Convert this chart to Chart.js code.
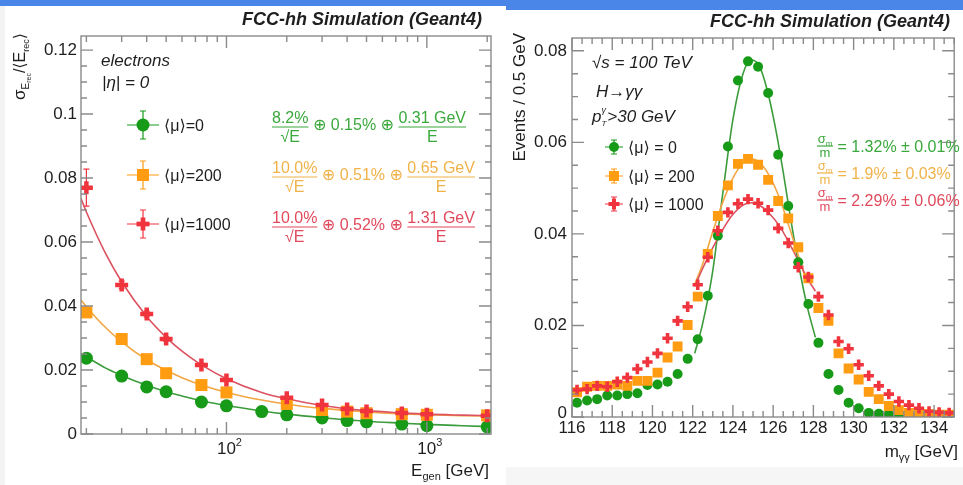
<!DOCTYPE html>
<html>
<head>
<meta charset="UTF-8">
<title>FCC-hh Simulation (Geant4)</title>
<script src="https://cdn.jsdelivr.net/npm/chart.js@4.4.0/dist/chart.umd.min.js"></script>
<style>
body { margin:0; width:963px; height:485px; background:#4a86e8; position:relative; overflow:hidden; }
#strip { position:absolute; left:0; top:6px; width:5px; height:479px; background:#f3f3f3; }
#leftBox { position:absolute; left:5px; top:6px; width:501px; height:479px; background:#fff; }
#rightBox { position:absolute; left:506px; top:10px; width:457px; height:457px; background:#fff; }
#rightFoot { position:absolute; left:506px; top:467px; width:457px; height:18px; background:#f6f6f6; }
canvas { display:block; }
</style>
</head>
<body>
<div id="strip"></div>
<div id="leftBox"><canvas id="left" width="501" height="479"></canvas></div>
<div id="rightBox"><canvas id="right" width="457" height="457"></canvas></div>
<div id="rightFoot"></div>
<script>
// ---- left panel: electron energy resolution ----
var greenEnergies = [20, 30, 40, 50, 75, 100, 150, 200, 300, 400, 500, 750, 1000, 2000];
var greenRes = [0.0237, 0.0181, 0.0147, 0.0132, 0.0100, 0.0088, 0.0070, 0.0060, 0.0050, 0.0042, 0.0038, 0.0031, 0.0026, 0.0022];
var greenErr = [0.0008, 0.0005, 0.0004, 0.0004, 0.0003, 0.0003, 0.0002, 0.0002, 0.0002, 0.0001, 0.0001, 0.0001, 0.0001, 0.0001];
var pileupEnergies = [20, 30, 40, 50, 75, 100, 200, 300, 400, 500, 750, 1000, 2000];
var orangeRes = [0.0380, 0.0297, 0.0234, 0.0190, 0.0153, 0.0130, 0.0094, 0.0075, 0.0070, 0.0065, 0.0062, 0.0060, 0.0058];
var orangeErr = [0.0015, 0.0008, 0.0006, 0.0005, 0.0004, 0.0003, 0.0002, 0.0002, 0.0002, 0.0001, 0.0001, 0.0001, 0.0001];
var redRes = [0.0770, 0.0466, 0.0375, 0.0297, 0.0216, 0.0169, 0.0113, 0.0091, 0.0078, 0.0072, 0.0066, 0.0062, 0.0057];
var redErr = [0.0058, 0.0012, 0.0009, 0.0007, 0.0005, 0.0004, 0.0003, 0.0002, 0.0002, 0.0002, 0.0001, 0.0001, 0.0001];

// fit curves
var fitEnergies = [18.8, 20, 25, 30, 40, 50, 60, 75, 100, 150, 200, 300, 500, 750, 1000, 1500, 2100];
var greenFit = [0.0251, 0.0241, 0.0206, 0.0183, 0.0152, 0.0132, 0.0119, 0.0104, 0.0089, 0.0072, 0.0062, 0.0051, 0.0040, 0.0034, 0.0030, 0.0026, 0.0023];
var orangeFit = [0.0419, 0.0398, 0.0332, 0.0288, 0.0232, 0.0199, 0.0176, 0.0153, 0.0130, 0.0106, 0.0093, 0.0080, 0.0069, 0.0063, 0.0060, 0.0057, 0.0056];
var redFit = [0.0736, 0.0694, 0.0563, 0.0476, 0.0367, 0.0302, 0.0259, 0.0216, 0.0173, 0.0130, 0.0110, 0.0089, 0.0073, 0.0066, 0.0062, 0.0059, 0.0057];

var leftYTicks = [0, 0.02, 0.04, 0.06, 0.08, 0.1, 0.12];
var leftYLabels = ['0', '0.02', '0.04', '0.06', '0.08', '0.1', '0.12'];
var leftXTicks = [100, 1000];
var leftXExponents = ['2', '3'];
var leftXMinor = [20, 30, 40, 50, 60, 70, 80, 90, 200, 300, 400, 500, 600, 700, 800, 900, 2000];

// ---- right panel: diphoton mass ----
var massBins = [116.25, 116.75, 117.25, 117.75, 118.25, 118.75, 119.25, 119.75, 120.25, 120.75,
  121.25, 121.75, 122.25, 122.75, 123.25, 123.75, 124.25, 124.75, 125.25, 125.75,
  126.25, 126.75, 127.25, 127.75, 128.25, 128.75, 129.25, 129.75, 130.25, 130.75,
  131.25, 131.75, 132.25, 132.75, 133.25, 133.75, 134.25, 134.75];
var eventsMu0 = [0.0031, 0.0036, 0.0039, 0.0047, 0.0047, 0.0050, 0.0052, 0.0070, 0.0071, 0.0077,
  0.0094, 0.0127, 0.0170, 0.0265, 0.0396, 0.0591, 0.0735, 0.0777, 0.0765, 0.0708,
  0.0573, 0.0461, 0.0338, 0.0247, 0.0162, 0.0094, 0.0059, 0.0031, 0.0019, 0.0009,
  0.0007, 0.0006, 0.0004, 0.0002, 0.0001, 0.0001, 0.0000, 0.0000];
var eventsMu200 = [0.0054, 0.0066, 0.0068, 0.0068, 0.0071, 0.0068, 0.0079, 0.0079, 0.0097, 0.0130,
  0.0154, 0.0201, 0.0263, 0.0356, 0.0439, 0.0506, 0.0553, 0.0564, 0.0551, 0.0518,
  0.0472, 0.0434, 0.0371, 0.0303, 0.0238, 0.0210, 0.0139, 0.0106, 0.0082, 0.0055,
  0.0039, 0.0024, 0.0015, 0.0009, 0.0007, 0.0006, 0.0005, 0.0005];
var eventsMu1000 = [0.0059, 0.0061, 0.0068, 0.0066, 0.0077, 0.0086, 0.0105, 0.0120, 0.0139, 0.0172,
  0.0210, 0.0241, 0.0289, 0.0349, 0.0407, 0.0447, 0.0466, 0.0476, 0.0467, 0.0452,
  0.0412, 0.0380, 0.0327, 0.0306, 0.0263, 0.0223, 0.0165, 0.0149, 0.0114, 0.0090,
  0.0068, 0.0050, 0.0034, 0.0026, 0.0019, 0.0012, 0.0010, 0.0009];

var greenFitMass = [122.1, 122.5, 123.0, 123.5, 124.0, 124.5, 124.9, 125.3, 125.7, 126.1, 126.5, 126.9, 127.3, 127.7, 128.1];
var greenFitEvents = [0.0139, 0.0205, 0.0320, 0.0490, 0.0650, 0.0750, 0.0780, 0.0768, 0.0715, 0.0635, 0.0535, 0.0425, 0.0325, 0.0240, 0.0174];
var orangeFitMass = [122.1, 122.5, 123.0, 123.5, 124.0, 124.5, 124.9, 125.3, 125.8, 126.3, 126.8, 127.2, 127.6];
var orangeFitEvents = [0.0290, 0.0335, 0.0405, 0.0470, 0.0522, 0.0555, 0.0564, 0.0557, 0.0528, 0.0480, 0.0415, 0.0360, 0.0305];
var redFitMass = [122.1, 122.5, 123.0, 123.5, 124.0, 124.5, 124.9, 125.3, 125.8, 126.3, 126.8, 127.3, 127.7, 128.1];
var redFitEvents = [0.0285, 0.0325, 0.0370, 0.0410, 0.0443, 0.0463, 0.0468, 0.0463, 0.0445, 0.0418, 0.0380, 0.0337, 0.0303, 0.0275];

var rightXTicks = [116, 118, 120, 122, 124, 126, 128, 130, 132, 134];
var rightXLabels = ['116', '118', '120', '122', '124', '126', '128', '130', '132', '134'];
var rightYTicks = [0, 0.02, 0.04, 0.06, 0.08];
var rightYLabels = ['0', '0.02', '0.04', '0.06', '0.08'];

var FONT = '"Liberation Sans", "DejaVu Sans", sans-serif';
var GREEN = '#169a18', ORANGE = '#ff9c12', RED = '#f0343e';
var GREEN_LINE = '#3c9c3c', ORANGE_LINE = '#f2a644', RED_LINE = '#dc5260';
var GREEN_TXT = '#3aa83c', ORANGE_TXT = '#f0b24a', RED_TXT = '#e04a5c';
var FRAME = '#8a8a8a', INK = '#1e1e1e';

function xy(xs, ys) { return xs.map(function (v, i) { return {x: v, y: ys[i]}; }); }
function setFont(ctx, size, style) { ctx.font = (style || '') + ' ' + size + 'px ' + FONT; }

// parts: [text, size, dy, style]
function drawRich(ctx, parts, x, y, align, color) {
  var w = 0;
  parts.forEach(function (p) { setFont(ctx, p[1], p[3]); w += ctx.measureText(p[0]).width; });
  var cx = align === 'right' ? x - w : align === 'center' ? x - w / 2 : x;
  ctx.fillStyle = color; ctx.textAlign = 'left'; ctx.textBaseline = 'alphabetic';
  parts.forEach(function (p) {
    setFont(ctx, p[1], p[3]);
    ctx.fillText(p[0], cx, y + (p[2] || 0));
    cx += ctx.measureText(p[0]).width;
  });
  return cx;
}

function drawFrac(ctx, num, den, x, yLine, size, color) {
  setFont(ctx, size);
  var w = Math.max(ctx.measureText(num).width, ctx.measureText(den).width);
  ctx.fillStyle = color; ctx.textAlign = 'center'; ctx.textBaseline = 'alphabetic';
  ctx.fillText(num, x + w / 2, yLine - 4);
  ctx.fillText(den, x + w / 2, yLine + 15);
  ctx.strokeStyle = color; ctx.lineWidth = 1.2;
  ctx.beginPath(); ctx.moveTo(x, yLine); ctx.lineTo(x + w, yLine); ctx.stroke();
  ctx.textAlign = 'left';
  return x + w;
}

function drawMarker(ctx, kind, x, y, r, color) {
  ctx.fillStyle = color;
  if (kind === 'circle') { ctx.beginPath(); ctx.arc(x, y, r, 0, Math.PI * 2); ctx.fill(); }
  else if (kind === 'rect') { ctx.fillRect(x - r, y - r, 2 * r, 2 * r); }
  else { var t = r * 0.36; ctx.fillRect(x - r, y - t, 2 * r, 2 * t); ctx.fillRect(x - t, y - r, 2 * t, 2 * r); }
}

function legendEntry(ctx, kind, x, y, r, arm, color, label, size) {
  ctx.strokeStyle = color; ctx.lineWidth = 1.2;
  ctx.beginPath();
  ctx.moveTo(x - arm, y); ctx.lineTo(x + arm, y);
  ctx.moveTo(x, y - arm + 2); ctx.lineTo(x, y + arm - 2);
  ctx.moveTo(x - 3, y - arm + 2); ctx.lineTo(x + 3, y - arm + 2);
  ctx.moveTo(x - 3, y + arm - 2); ctx.lineTo(x + 3, y + arm - 2);
  ctx.stroke();
  drawMarker(ctx, kind, x, y, r, color);
  drawRich(ctx, [[label, size]], x + arm + 5, y + 6, 'left', INK);
}

function errorBars(ctx, xs, ys, xv, yv, ev, color) {
  ctx.strokeStyle = color; ctx.lineWidth = 1.2;
  ctx.beginPath();
  xv.forEach(function (v, i) {
    var px = xs.getPixelForValue(v);
    var top = ys.getPixelForValue(yv[i] + ev[i]), bot = ys.getPixelForValue(yv[i] - ev[i]);
    ctx.moveTo(px, top); ctx.lineTo(px, bot);
    ctx.moveTo(px - 3, top); ctx.lineTo(px + 3, top);
    ctx.moveTo(px - 3, bot); ctx.lineTo(px + 3, bot);
  });
  ctx.stroke();
}

function drawFrame(chart, xMajor, xMinor, yMajor, yMinor) {
  var ctx = chart.ctx, a = chart.chartArea, xs = chart.scales.x, ys = chart.scales.y;
  ctx.save();
  ctx.strokeStyle = FRAME; ctx.lineWidth = 1.4;
  ctx.strokeRect(a.left, a.top, a.right - a.left, a.bottom - a.top);
  ctx.beginPath();
  function yt(v, len) {
    var p = ys.getPixelForValue(v);
    ctx.moveTo(a.left, p); ctx.lineTo(a.left + len, p);
    ctx.moveTo(a.right, p); ctx.lineTo(a.right - len, p);
  }
  function xt(v, len) {
    var p = xs.getPixelForValue(v);
    ctx.moveTo(p, a.bottom); ctx.lineTo(p, a.bottom - len);
    ctx.moveTo(p, a.top); ctx.lineTo(p, a.top + len);
  }
  yMajor.forEach(function (v) { yt(v, 12); });
  yMinor.forEach(function (v) { yt(v, 6); });
  xMajor.forEach(function (v) { xt(v, 12); });
  xMinor.forEach(function (v) { xt(v, 6); });
  ctx.stroke();
  ctx.restore();
}

function minorTicks(lo, hi, step, majors) {
  var out = [];
  for (var v = lo; v <= hi + 1e-9; v += step) {
    var r = Math.round(v * 10000) / 10000;
    if (majors.indexOf(r) < 0) out.push(r);
  }
  return out;
}

var leftPlot = {
  id: 'leftPlot',
  beforeDatasetsDraw: function (chart) {
    var ctx = chart.ctx, xs = chart.scales.x, ys = chart.scales.y;
    ctx.save();
    errorBars(ctx, xs, ys, greenEnergies, greenRes, greenErr, GREEN);
    errorBars(ctx, xs, ys, pileupEnergies, orangeRes, orangeErr, ORANGE);
    errorBars(ctx, xs, ys, pileupEnergies, redRes, redErr, RED);
    ctx.restore();
  },
  afterDraw: function (chart) {
    var ctx = chart.ctx, a = chart.chartArea, xs = chart.scales.x, ys = chart.scales.y;
    drawFrame(chart, leftXTicks, leftXMinor, leftYTicks, minorTicks(0, 0.12, 0.005, leftYTicks));
    ctx.save();
    setFont(ctx, 17); ctx.fillStyle = INK; ctx.textAlign = 'right'; ctx.textBaseline = 'middle';
    leftYTicks.forEach(function (v, i) { ctx.fillText(leftYLabels[i], a.left - 4, ys.getPixelForValue(v)); });
    leftXTicks.forEach(function (v, i) {
      drawRich(ctx, [['10', 17], [leftXExponents[i], 11, -8]], xs.getPixelForValue(v) + 3, a.bottom + 20, 'center', INK);
    });
    drawRich(ctx, [['E', 17], ['gen', 11, 4], [' [GeV]', 17]], a.right - 2, 470, 'right', INK);
    // y title, rotated
    ctx.save();
    ctx.translate(20, 27); ctx.rotate(-Math.PI / 2);
    drawRich(ctx, [['\u03c3', 17], ['E', 10, 4], ['rec', 7, 6], ['/\u27e8E', 16], ['rec', 9, 4], ['\u27e9', 16]], 0, 0, 'right', INK);
    ctx.restore();
    drawRich(ctx, [['FCC-hh Simulation (Geant4)', 18, 0, 'italic bold']], 477, 19, 'right', INK);
    drawRich(ctx, [['electrons', 17, 0, 'italic']], 96, 60, 'left', INK);
    drawRich(ctx, [['|\u03b7| = 0', 17, 0, 'italic']], 97, 82, 'left', INK);
    legendEntry(ctx, 'circle', 138, 119, 6.5, 16, GREEN, '\u27e8\u03bc\u27e9=0', 16);
    legendEntry(ctx, 'rect', 138, 169, 6, 16, ORANGE, '\u27e8\u03bc\u27e9=200', 16);
    legendEntry(ctx, 'cross', 138, 218, 6.5, 16, RED, '\u27e8\u03bc\u27e9=1000', 16);
    var rows = [[121, '8.2%', '0.15%', '0.31 GeV', GREEN_TXT], [171, '10.0%', '0.51%', '0.65 GeV', ORANGE_TXT], [221, '10.0%', '0.52%', '1.31 GeV', RED_TXT]];
    rows.forEach(function (r) {
      var x = drawFrac(ctx, r[1], '\u221aE', 267, r[0], 16, r[4]);
      x = drawRich(ctx, [[' \u2295 ' + r[2] + ' \u2295 ', 16]], x, r[0] + 3, 'left', r[4]);
      drawFrac(ctx, r[3], 'E', x, r[0], 16, r[4]);
    });
    ctx.restore();
  }
};

var rightPlot = {
  id: 'rightPlot',
  afterDraw: function (chart) {
    var ctx = chart.ctx, a = chart.chartArea, xs = chart.scales.x, ys = chart.scales.y;
    drawFrame(chart, rightXTicks, minorTicks(116, 135, 0.5, rightXTicks), rightYTicks, minorTicks(0, 0.08, 0.005, rightYTicks));
    ctx.save();
    setFont(ctx, 17); ctx.fillStyle = INK; ctx.textAlign = 'right'; ctx.textBaseline = 'middle';
    rightYTicks.forEach(function (v, i) { ctx.fillText(rightYLabels[i], a.left - 5, ys.getPixelForValue(v) - (v === 0 ? 4 : 0)); });
    ctx.textAlign = 'center'; ctx.textBaseline = 'alphabetic';
    rightXTicks.forEach(function (v, i) { ctx.fillText(rightXLabels[i], xs.getPixelForValue(v), a.bottom + 16); });
    drawRich(ctx, [['m', 17], ['\u03b3\u03b3', 11, 4], [' [GeV]', 17]], 452, 447, 'right', INK);
    ctx.save();
    ctx.translate(19, 23); ctx.rotate(-Math.PI / 2);
    drawRich(ctx, [['Events / 0.5 GeV', 17]], 0, 0, 'right', INK);
    ctx.restore();
    drawRich(ctx, [['FCC-hh Simulation (Geant4)', 18, 0, 'italic bold']], 444, 17, 'right', INK);
    drawRich(ctx, [['\u221as = 100 TeV', 17, 0, 'italic']], 86, 58, 'left', INK);
    drawRich(ctx, [['H\u2192\u03b3\u03b3', 17, 0, 'italic']], 90, 87, 'left', INK);
    var px = drawRich(ctx, [['p', 17, 0, 'italic']], 86, 112, 'left', INK);
    drawRich(ctx, [['\u03b3', 9, -9, 'italic']], px, 112, 'left', INK);
    px = drawRich(ctx, [['T', 8, 4, 'italic']], px, 112, 'left', INK);
    drawRich(ctx, [['>30 GeV', 17, 0, 'italic']], px + 1, 112, 'left', INK);
    legendEntry(ctx, 'circle', 108, 137, 5, 9, GREEN, '\u27e8\u03bc\u27e9 = 0', 16);
    legendEntry(ctx, 'rect', 108, 166, 5, 9, ORANGE, '\u27e8\u03bc\u27e9 = 200', 16);
    legendEntry(ctx, 'cross', 108, 194, 5.5, 9, RED, '\u27e8\u03bc\u27e9 = 1000', 16);
    var rows = [[136, '1.32% \u00b1 0.01%', GREEN_TXT], [163, '1.9% \u00b1 0.03%', ORANGE_TXT], [190, '2.29% \u00b1 0.06%', RED_TXT]];
    rows.forEach(function (r) {
      var x0 = 311;
      drawRich(ctx, [['\u03c3', 13], ['m', 8, 3]], x0 + 8, r[0] - 3, 'center', r[2]);
      drawRich(ctx, [['m', 13]], x0 + 8, r[0] + 11, 'center', r[2]);
      ctx.strokeStyle = r[2]; ctx.lineWidth = 1.2;
      ctx.beginPath(); ctx.moveTo(x0, r[0]); ctx.lineTo(x0 + 16, r[0]); ctx.stroke();
      drawRich(ctx, [[' = ' + r[1], 16]], x0 + 16, r[0] + 6, 'left', r[2]);
    });
    ctx.restore();
  }
};

new Chart(document.getElementById('left'), {
  type: 'scatter',
  data: {
    datasets: [
      {data: xy(pileupEnergies, redRes), pointStyle: 'cross', pointRadius: 6.5, borderWidth: 4.5, borderColor: RED, backgroundColor: RED},
      {data: xy(pileupEnergies, orangeRes), pointStyle: 'rect', pointRadius: 8.5, borderWidth: 0, backgroundColor: ORANGE},
      {data: xy(greenEnergies, greenRes), pointStyle: 'circle', pointRadius: 6.5, borderWidth: 0, backgroundColor: GREEN},
      {data: xy(fitEnergies, redFit), showLine: true, pointRadius: 0, borderWidth: 1.6, borderColor: RED_LINE, cubicInterpolationMode: 'monotone'},
      {data: xy(fitEnergies, orangeFit), showLine: true, pointRadius: 0, borderWidth: 1.6, borderColor: ORANGE_LINE, cubicInterpolationMode: 'monotone'},
      {data: xy(fitEnergies, greenFit), showLine: true, pointRadius: 0, borderWidth: 1.6, borderColor: GREEN_LINE, cubicInterpolationMode: 'monotone'}
    ]
  },
  options: {
    responsive: false, animation: false, events: [],
    layout: {padding: {left: 76, right: 15, top: 30, bottom: 51}},
    plugins: {legend: {display: false}, tooltip: {enabled: false}},
    scales: {
      x: {type: 'logarithmic', min: 18.8, max: 2090, display: false},
      y: {type: 'linear', min: 0, max: 0.1244, display: false}
    }
  },
  plugins: [leftPlot]
});

new Chart(document.getElementById('right'), {
  type: 'scatter',
  data: {
    datasets: [
      {data: xy(massBins, eventsMu1000), pointStyle: 'cross', pointRadius: 5.2, borderWidth: 3.6, borderColor: RED, backgroundColor: RED},
      {data: xy(massBins, eventsMu200), pointStyle: 'rect', pointRadius: 7, borderWidth: 0, backgroundColor: ORANGE},
      {data: xy(massBins, eventsMu0), pointStyle: 'circle', pointRadius: 5, borderWidth: 0, backgroundColor: GREEN},
      {data: xy(redFitMass, redFitEvents), showLine: true, pointRadius: 0, borderWidth: 1.6, borderColor: RED_LINE, cubicInterpolationMode: 'monotone'},
      {data: xy(orangeFitMass, orangeFitEvents), showLine: true, pointRadius: 0, borderWidth: 1.6, borderColor: ORANGE_LINE, cubicInterpolationMode: 'monotone'},
      {data: xy(greenFitMass, greenFitEvents), showLine: true, pointRadius: 0, borderWidth: 1.6, borderColor: GREEN_LINE, cubicInterpolationMode: 'monotone'}
    ]
  },
  options: {
    responsive: false, animation: false, events: [],
    layout: {padding: {left: 66, right: 1, top: 28, bottom: 50}},
    plugins: {legend: {display: false}, tooltip: {enabled: false}},
    scales: {
      x: {type: 'linear', min: 116, max: 135, display: false},
      y: {type: 'linear', min: 0, max: 0.0828, display: false}
    }
  },
  plugins: [rightPlot]
});
</script>
</body>
</html>
